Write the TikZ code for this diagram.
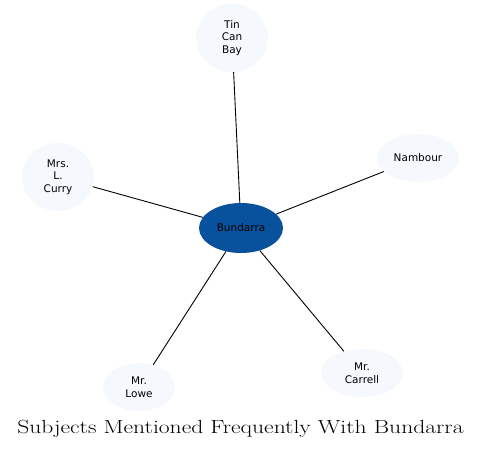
\documentclass[tikz,border=0pt]{standalone}
\usepackage{fontspec}
\newfontfamily\nodefont{DejaVu Sans}
\usetikzlibrary{shapes.geometric}
\definecolor{lightfill}{HTML}{F5F9FE}
\definecolor{darkfill}{HTML}{08519C}
\tikzset{
  sub/.style={ellipse, fill=lightfill, inner sep=0pt, align=center, font=\nodefont\fontsize{10.5}{12.5}\selectfont},
  hub/.style={ellipse, fill=darkfill, inner sep=0pt, align=center, font=\nodefont\fontsize{10.5}{12.5}\selectfont},
  link/.style={draw=black, line width=0.9pt}
}
\begin{document}
\begin{tikzpicture}[x=1pt,y=-1pt]
\useasboundingbox (0,0) rectangle (481,448);
\node[hub, minimum width=84, minimum height=50] (b) at (241,228) {Bundarra};
\node[sub, minimum width=72, minimum height=68] (t) at (232,38) {Tin\\Can\\Bay};
\node[sub, minimum width=72, minimum height=68] (c) at (58,177) {Mrs.\\L.\\Curry};
\node[sub, minimum width=82, minimum height=48] (n) at (418,158) {Nambour};
\node[sub, minimum width=72, minimum height=48] (l) at (139,387) {Mr.\\Lowe};
\node[sub, minimum width=82, minimum height=48] (r) at (362,373) {Mr.\\Carrell};
\draw[link] (b) -- (t);
\draw[link] (b) -- (c);
\draw[link] (b) -- (n);
\draw[link] (b) -- (l);
\draw[link] (b) -- (r);
\node[font=\fontsize{19}{21}\selectfont, inner sep=0pt, anchor=base] (title) at (240.5,433) {\scalebox{1.24}[1]{Subjects Mentioned Frequently With Bundarra}};
\end{tikzpicture}
\end{document}
